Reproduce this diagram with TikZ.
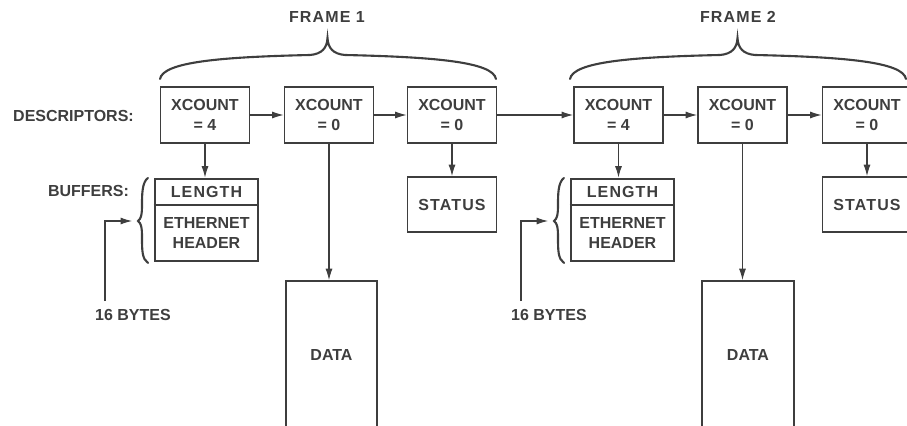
\documentclass[tikz,border=0pt]{standalone}
\usepackage{fontspec}
\setsansfont{Liberation Sans}
\usepackage{tikz}
\usetikzlibrary{arrows.meta}

\definecolor{ink}{HTML}{3E3E3E}
\newcommand{\spaced}{\addfontfeature{LetterSpace=7}}

\tikzset{
  lbl/.style={font=\sffamily\bfseries\fontsize{9.1}{11.2}\selectfont, text=ink, align=center, inner sep=0pt},
  desc/.style={lbl, draw=ink, line width=1pt, minimum width=1.78cm, minimum height=1.12cm},
  buf/.style={draw=ink, line width=1.6pt, minimum width=2.06cm, minimum height=1.64cm, inner sep=0pt},
  conn/.style={draw=ink, line width=0.6pt},
  curly/.style={draw=ink, line width=1.2pt, line cap=round}
}

\begin{document}
\begin{tikzpicture}[x=0.02cm, y=-0.02cm, >={Latex[length=6.5pt,width=4pt]}]
        \useasboundingbox (0,0) rectangle (907,426);
        \clip (0,0) rectangle (907,426);

        % Row labels
        \node[lbl] (desclbl) at (73.5,116) {DESCRIPTORS:};
        \node[lbl] (buflbl) at (88.5,191) {BUFFERS:};

        % Frame labels
        \node[lbl] (f1) at (327,17) {\spaced FRAME 1};
        \node[lbl] (f2) at (738,17) {\spaced FRAME 2};

        % Descriptors
        \node[desc] (d1) at (205,115) {XCOUNT\\= 4};
        \node[desc] (d2) at (329,115) {XCOUNT\\= 0};
        \node[desc] (d3) at (452,115) {XCOUNT\\= 0};
        \node[desc] (d4) at (618.5,115) {XCOUNT\\= 4};
        \node[desc] (d5) at (742.5,115) {XCOUNT\\= 0};
        \node[desc] (d6) at (867,115) {XCOUNT\\= 0};

        % Chain of descriptors
        \draw[conn,->] (d1) -- (d2);
        \draw[conn,->] (d2) -- (d3);
        \draw[conn,->] (d3) -- (d4);
        \draw[conn,->] (d4) -- (d5);
        \draw[conn,->] (d5) -- (d6);

        % Braces over the frames
        \draw[curly] (160,79) .. controls (163,62) and (220,57) .. (310,55)
            .. controls (322,54) and (327,48) .. (327.5,38)
            .. controls (328,48) and (333,54) .. (345,55)
            .. controls (435,57) and (493,62) .. (496,79);
        \draw[curly] (570,79) .. controls (573,62) and (630,57) .. (720,55)
            .. controls (732,54) and (737,48) .. (737.5,38)
            .. controls (738,48) and (743,54) .. (755,55)
            .. controls (845,57) and (903,62) .. (906,79);

        % Header buffers
        \node[buf] (b1) at (206.5,220) {};
        \draw[conn] (b1.west |- 0,205) -- (b1.east |- 0,205);
        \node[lbl] (len1) at (206.5,192) {\spaced LENGTH};
        \node[lbl] (eth1) at (206.5,233) {ETHERNET\\HEADER};
        \node[buf] (b2) at (622.5,220) {};
        \draw[conn] (b2.west |- 0,205) -- (b2.east |- 0,205);
        \node[lbl] (len2) at (622.5,192) {\spaced LENGTH};
        \node[lbl] (eth2) at (622.5,233) {ETHERNET\\HEADER};
        \draw[conn,->] (d1) -- (d1 |- b1.north);
        \draw[conn,->] (d4) -- (d4 |- b2.north);

        % Side braces and 16 bytes
        \draw[curly] (148,178) .. controls (142,182) and (142,195) .. (142,205)
            .. controls (142,215) and (141,219) .. (138,221)
            .. controls (141,223) and (142,227) .. (142,237)
            .. controls (142,250) and (142,259) .. (148,263);
        \draw[curly] (564,178) .. controls (558,182) and (558,195) .. (558,205)
            .. controls (558,215) and (557,219) .. (554,221)
            .. controls (557,223) and (558,227) .. (558,237)
            .. controls (558,250) and (558,259) .. (564,263);
        \coordinate (tip1) at (138,221);
        \coordinate (tip2) at (554,221);
        \coordinate (tail1) at (105,301);
        \coordinate (tail2) at (521,301);
        \node[lbl] (sb1) at (133,315) {16 BYTES};
        \node[lbl] (sb2) at (549,315) {16 BYTES};
        \draw[conn,->,shorten >=3.4pt] (tail1) |- (tip1);
        \draw[conn,->,shorten >=3.4pt] (tail2) |- (tip2);

        % Data buffers, open at the bottom
        \node[desc, minimum width=1.82cm, minimum height=2.96cm] (da1) at (331.5,355) {DATA};
        \node[desc, minimum width=1.84cm, minimum height=2.96cm] (da2) at (748,355) {DATA};
        \draw[conn,->] (d2) -- (d2 |- da1.north);
        \draw[conn,->] (d5) -- (d5 |- da2.north);

        % Status buffers
        \node[desc, minimum height=1.1cm] (s1) at (452,204.5) {\spaced STATUS};
        \node[desc, minimum height=1.1cm] (s2) at (867,204.5) {\spaced STATUS};
        \draw[conn,->] (d3) -- (s1);
        \draw[conn,->] (d6) -- (s2);
\end{tikzpicture}
\end{document}
